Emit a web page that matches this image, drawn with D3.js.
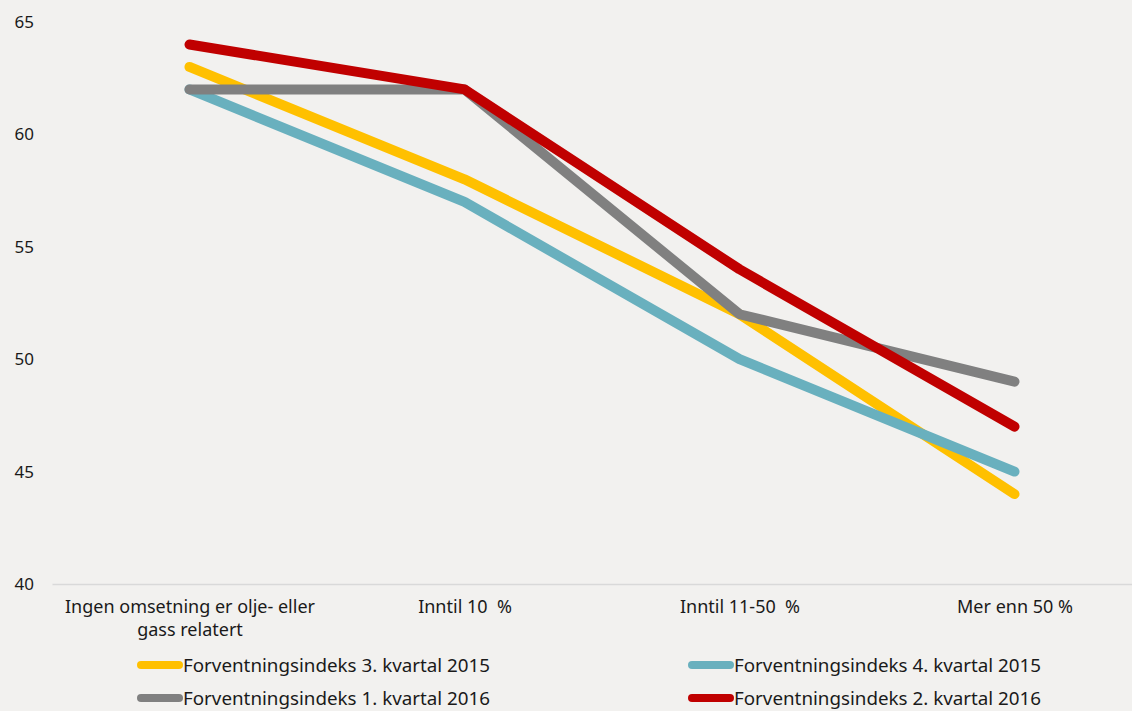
<!DOCTYPE html>
<html><head><meta charset="utf-8">
<script src="https://cdn.jsdelivr.net/npm/d3@7"></script>
<style>
html,body{margin:0;padding:0;background:#f2f1ef;}
svg{display:block;font-family:"Noto Sans",sans-serif;}
text{white-space:pre;}
</style></head>
<body>
<svg id="chart" width="1132" height="711"></svg>
<script>
const categories = ["Ingen omsetning er olje- eller gass relatert", "Inntil 10  %", "Inntil 11-50  %", "Mer enn 50 %"];
const seriesNames = ["Forventningsindeks 3. kvartal 2015", "Forventningsindeks 4. kvartal 2015", "Forventningsindeks 1. kvartal 2016", "Forventningsindeks 2. kvartal 2016"];
const q3_2015 = [63, 58, 52, 44];
const q4_2015 = [62, 57, 50, 45];
const q1_2016 = [62, 62, 52, 49];
const q2_2016 = [64, 62, 54, 47];
const colors = ["#ffc000", "#69b0be", "#808080", "#c00000"];
const yTicks = [40, 45, 50, 55, 60, 65];

const series = [q3_2015, q4_2015, q1_2016, q2_2016].map((v, i) => ({name: seriesNames[i], values: v, color: colors[i]}));

const svg = d3.select("#chart");
const x = d3.scalePoint().domain(categories).range([52, 1152]).padding(0.5);
const y = d3.scaleLinear().domain([40, 65]).range([584, 22]);

// y tick labels
const yAxis = svg.append("g").attr("transform", "translate(34,0)")
  .call(d3.axisLeft(y).tickValues(yTicks).tickSize(0).tickPadding(0));
yAxis.select(".domain").remove();
yAxis.selectAll("text").attr("font-size", 17).attr("fill", "#1a1a1a").attr("font-family", "Noto Sans");

// x axis
const xAxis = svg.append("g").attr("transform", "translate(0,584)")
  .call(d3.axisBottom(x).tickSize(0).tickPadding(16));
xAxis.select(".domain").attr("stroke", "#d9d9d9").attr("stroke-width", 1.5);
xAxis.selectAll("text").attr("font-size", 18).attr("fill", "#1a1a1a").attr("font-family", "Noto Sans")
  .each(function(d) {
    const t = d3.select(this);
    const words = d.split(" ");
    t.text(null);
    let line = [];
    let tspan = t.append("tspan").attr("x", 0).attr("dy", "0.71em");
    for (const w of words) {
      line.push(w);
      tspan.text(line.join(" "));
      if (tspan.node().getComputedTextLength() > 262 && line.length > 1) {
        line.pop();
        tspan.text(line.join(" "));
        line = [w];
        tspan = t.append("tspan").attr("x", 0).attr("dy", "1.3em").text(w);
      }
    }
  });

// lines
const line = d3.line().x((d, i) => x(categories[i])).y(d => y(d));
svg.append("g").selectAll("path").data(series).join("path")
  .attr("d", d => line(d.values))
  .attr("fill", "none")
  .attr("stroke", d => d.color)
  .attr("stroke-width", 10)
  .attr("stroke-linecap", "round")
  .attr("stroke-linejoin", "round");

// legend
const legPos = [[137, 665], [688, 665], [137, 698], [688, 698]];
const leg = svg.append("g").selectAll("g").data(series).join("g")
  .attr("transform", (d, i) => `translate(${legPos[i][0]},${legPos[i][1]})`);
leg.append("line").attr("x1", 4).attr("x2", 42).attr("y1", 0).attr("y2", 0)
  .attr("stroke", d => d.color).attr("stroke-width", 8).attr("stroke-linecap", "round");
leg.append("text").attr("x", 46).attr("y", 0).attr("dy", "0.35em")
  .attr("font-size", 18.8).attr("fill", "#1a1a1a").text(d => d.name);
</script>
</body></html>
